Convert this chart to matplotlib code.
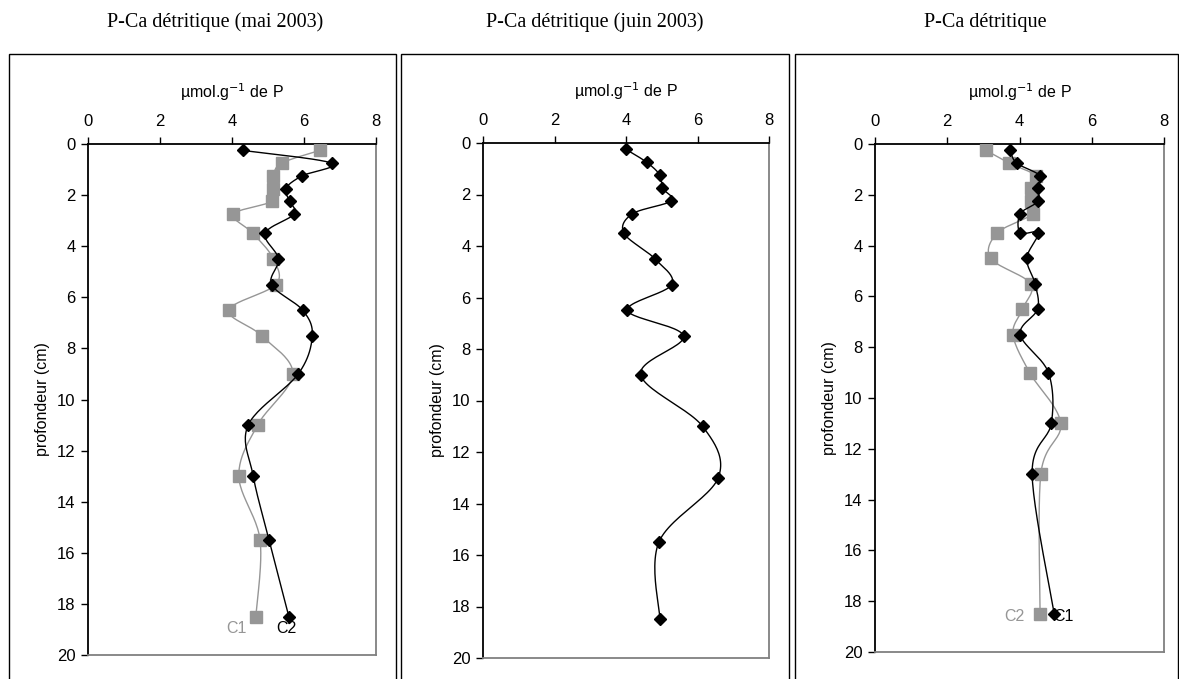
"""
P-Ca détritique profiles (three cores), Excel-style depth plots.
"""

import numpy as np
import matplotlib
matplotlib.use("Agg")
import matplotlib.pyplot as plt
from matplotlib.patches import Rectangle

# ── Data (µmol/g P vs depth in cm) ────────────────────────────────────────────
DEPTH = [0.25, 0.75, 1.25, 1.75, 2.25, 2.75, 3.5, 4.5, 5.5, 6.5, 7.5, 9, 11, 13, 15.5, 18.5]

MAI_C2 = [4.3, 6.77, 5.94, 5.49, 5.61, 5.72, 4.92, 5.29, 5.10, 5.96, 6.23, 5.84, 4.45, 4.59, 5.03, 5.58]
MAI_C1 = [6.44, 5.38, 5.15, 5.15, 5.10, 4.04, 4.59, 5.15, 5.22, 3.91, 4.82, 5.69, 4.71, 4.19, 4.78, 4.66]

JUIN = [4.0, 4.58, 4.95, 5.02, 5.26, 4.18, 3.94, 4.81, 5.28, 4.04, 5.61, 4.41, 6.14, 6.58, 4.92, 4.95]

# third core: black series has two samples at 3.5 cm, none at 15.5 cm
C3_DEPTH_BLACK = [0.25, 0.75, 1.25, 1.75, 2.25, 2.75, 3.5, 3.5, 4.5, 5.5, 6.5, 7.5, 9, 11, 13, 18.5]
C3_C1 = [3.74, 3.92, 4.57, 4.50, 4.52, 4.02, 4.02, 4.52, 4.20, 4.43, 4.50, 4.02, 4.80, 4.88, 4.35, 4.96]
C3_DEPTH_GRAY = [0.25, 0.75, 1.25, 1.75, 2.25, 2.75, 3.5, 4.5, 5.5, 6.5, 7.5, 9, 11, 13, 18.5]
C3_C2 = [3.07, 3.71, 4.45, 4.31, 4.31, 4.37, 3.39, 3.20, 4.31, 4.08, 3.82, 4.28, 5.14, 4.59, 4.57]

TITLES = ["P-Ca détritique (mai 2003)", "P-Ca détritique (juin 2003)", "P-Ca détritique"]

GRAY = "#969696"
SANS = ["Liberation Sans", "DejaVu Sans"]
SERIF = ["Liberation Serif", "DejaVu Serif"]
FS = 11.5


def smooth(x, y, n=24):
    """Catmull-Rom curve through the points (Excel 'smoothed line' look)."""
    pts = np.column_stack([x, y]).astype(float)
    P = np.vstack([pts[0], pts, pts[-1]])
    t = np.linspace(0, 1, n, endpoint=False)[:, None]
    out = []
    for i in range(1, len(P) - 2):
        p0, p1, p2, p3 = P[i - 1], P[i], P[i + 1], P[i + 2]
        seg = 0.5 * (2 * p1 + (-p0 + p2) * t
                     + (2 * p0 - 5 * p1 + 4 * p2 - p3) * t ** 2
                     + (-p0 + 3 * p1 - 3 * p2 + p3) * t ** 3)
        out.append(seg)
    out.append(pts[-1:])
    c = np.vstack(out)
    return c[:, 0], c[:, 1]


def series(ax, vals, depth, kind):
    sx, sy = smooth(vals, depth)
    if kind == "black":
        ax.plot(sx, sy, color="black", lw=1.0, zorder=3)
        ax.plot(vals, depth, ls="none", marker="D", ms=6.5, color="black", zorder=4)
    else:
        ax.plot(sx, sy, color=GRAY, lw=1.0, zorder=2)
        ax.plot(vals, depth, ls="none", marker="s", ms=8, color=GRAY, zorder=3)


def style_axes(ax):
    ax.set_xlim(0, 8)
    ax.set_ylim(20, 0)
    ax.set_xticks(range(0, 9, 2))
    ax.set_yticks(range(0, 21, 2))
    ax.xaxis.tick_top()
    ax.xaxis.set_label_position("top")
    ax.tick_params(axis="both", direction="out", length=5, width=1,
                   labelsize=12, pad=4)
    ax.tick_params(axis="x", pad=6)
    for lab in ax.get_xticklabels() + ax.get_yticklabels():
        lab.set_fontfamily(SANS)
    for side in ("top", "left"):
        ax.spines[side].set_color("black")
        ax.spines[side].set_linewidth(1.3)
    for side in ("right", "bottom"):
        ax.spines[side].set_color("#808080")
        ax.spines[side].set_linewidth(1.3)
    ax.set_xlabel("µmol.g$^{-1}$ de P", fontsize=FS, family=SANS, labelpad=11)
    ax.set_ylabel("profondeur (cm)", fontsize=FS, family=SANS, labelpad=5)


W, H = 1179, 679
fig = plt.figure(figsize=(W / 100, H / 100), dpi=100)

# axes rectangles in pixels: (left, right, top, bottom)
AX_PX = [(88, 376, 144, 655), (483, 769, 143, 658), (875, 1164, 144, 652)]
BOX_PX = [(9, 396), (401, 789), (795, 1178)]
TITLE_X = [215, 595, 985]

axes = []
for (l, r, t, b) in AX_PX:
    ax = fig.add_axes([l / W, 1 - b / H, (r - l) / W, (b - t) / H])
    axes.append(ax)

for (l, r), tx, title in zip(BOX_PX, TITLE_X, TITLES):
    fig.patches.append(Rectangle((l / W, -0.05), (r - l) / W, (1 - 54 / H) + 0.05,
                                 transform=fig.transFigure, fill=False,
                                 edgecolor="black", lw=1.0, zorder=0))
    fig.text(tx / W, 1 - 22 / H, title, ha="center", va="center",
             fontsize=14.5, family=SERIF)

# panel 1 : mai 2003
series(axes[0], MAI_C1, DEPTH, "gray")
series(axes[0], MAI_C2, DEPTH, "black")
axes[0].text(4.13, 18.95, "C1", color=GRAY, fontsize=FS, family=SANS, ha="center", va="center")
axes[0].text(5.52, 18.95, "C2", color="black", fontsize=FS, family=SANS, ha="center", va="center")

# panel 2 : juin 2003
series(axes[1], JUIN, DEPTH, "black")

# panel 3
series(axes[2], C3_C2, C3_DEPTH_GRAY, "gray")
series(axes[2], C3_C1, C3_DEPTH_BLACK, "black")
axes[2].text(3.86, 18.6, "C2", color=GRAY, fontsize=FS, family=SANS, ha="center", va="center")
axes[2].text(5.22, 18.6, "C1", color="black", fontsize=FS, family=SANS, ha="center", va="center", zorder=5)

for ax in axes:
    style_axes(ax)

fig.savefig("out.png", dpi=100)
